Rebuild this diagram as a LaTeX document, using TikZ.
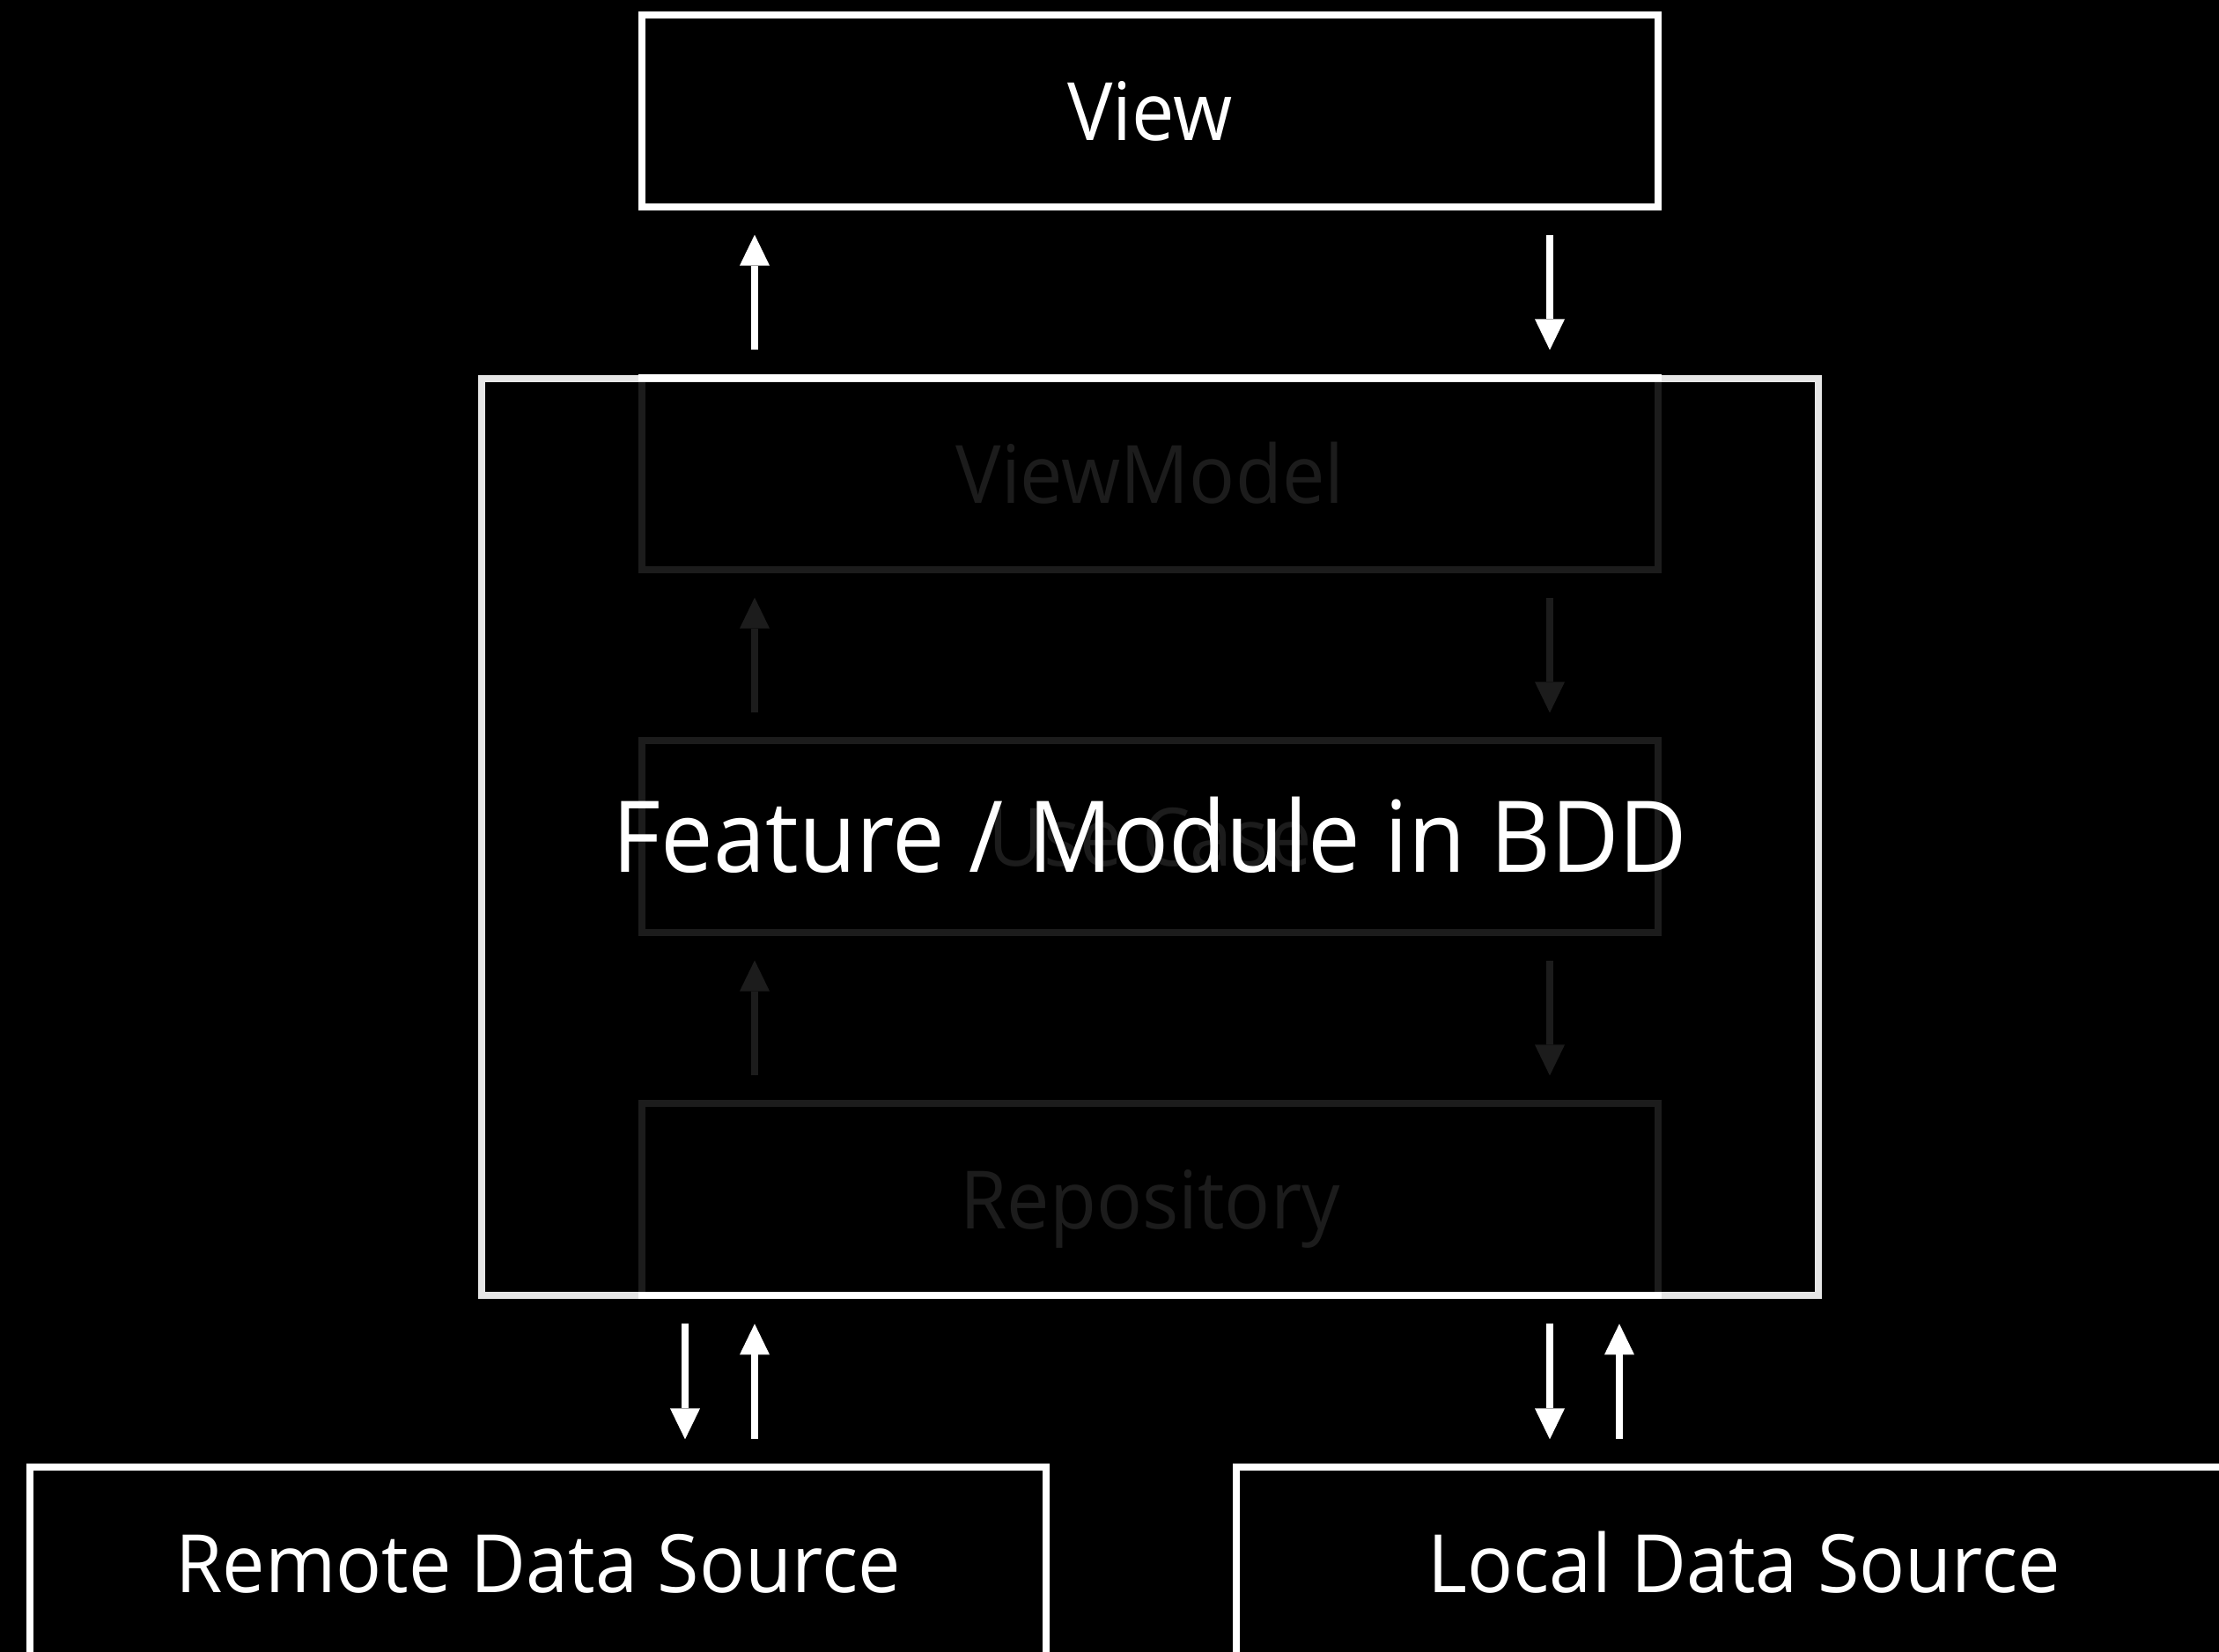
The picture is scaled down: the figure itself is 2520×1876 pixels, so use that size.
\documentclass[tikz,border=0pt]{standalone}
\usepackage{fontspec}
\setmainfont{Open Sans}[FakeStretch=0.945]
\usetikzlibrary{arrows.meta}
\definecolor{dimgray}{HTML}{1C1C1C}
\definecolor{framegray}{HTML}{E6E6E6}
\begin{document}
\begin{tikzpicture}[x=0.01cm,y=-0.01cm,
  boxbase/.style={rectangle, line width=0.08cm, outer sep=0pt, inner sep=0pt,
    minimum width=11.54cm, minimum height=2.17cm,
    text height=0.66cm, text depth=0pt,
    font=\fontsize{26}{30}\selectfont},
  mainbox/.style={boxbase, draw=white, text=white, fill=black},
  dimbox/.style={boxbase, draw=dimgray, text=dimgray},
  arr/.style={line width=0.08cm, -{Triangle[length=0.35cm,width=0.34cm,line width=0pt]},
    shorten <=0.32cm, shorten >=0.32cm},
  whitearr/.style={arr, draw=white, fill=white},
  dimarr/.style={arr, draw=dimgray, fill=dimgray}]
\useasboundingbox (0,0) rectangle (2520,1876);
\fill[black] (0,0) rectangle (2520,1876);
\clip (0,0) rectangle (2520,1876);

\coordinate (xa) at (857,0);
\coordinate (xb) at (1760,0);
\coordinate (xc) at (778,0);
\coordinate (xd) at (1839,0);

% inner (dim) layer
\node[dimbox] (vm) at (1306,538) {ViewModel};
\node[dimbox] (uc) at (1306,950) {Use Case};
\node[dimbox] (repo) at (1306,1362) {Repository};
\draw[dimarr] (uc.north -| xa) -- (vm.south -| xa);
\draw[dimarr] (vm.south -| xb) -- (uc.north -| xb);
\draw[dimarr] (repo.north -| xa) -- (uc.south -| xa);
\draw[dimarr] (uc.south -| xb) -- (repo.north -| xb);

% feature frame
\node[rectangle, draw=framegray, line width=0.08cm, outer sep=0pt,
  minimum width=15.18cm, minimum height=10.41cm] (feat) at (1306,950.5) {};
\draw[white, line width=0.08cm, line cap=rect] (vm.north west) -- (vm.north east);
\draw[white, line width=0.08cm, line cap=rect] (repo.south west) -- (repo.south east);
\node[text=white, inner sep=0pt, text height=0.8cm, text depth=0pt,
  font=\fontsize{32}{38}\selectfont] (ftxt) at (feat.center) {Feature / Module in BDD};

% outer boxes
\node[mainbox] (view) at (1306,126) {View};
\node[mainbox] (remote) at (611,1775) {Remote Data Source};
\node[mainbox] (local) at (1981,1775) {Local Data Source};

\draw[whitearr] (vm.north -| xa) -- (view.south -| xa);
\draw[whitearr] (view.south -| xb) -- (vm.north -| xb);

\draw[whitearr] (feat.south -| xc) -- (remote.north -| xc);
\draw[whitearr] (remote.north -| xa) -- (feat.south -| xa);
\draw[whitearr] (feat.south -| xb) -- (local.north -| xb);
\draw[whitearr] (local.north -| xd) -- (feat.south -| xd);
\end{tikzpicture}
\end{document}
